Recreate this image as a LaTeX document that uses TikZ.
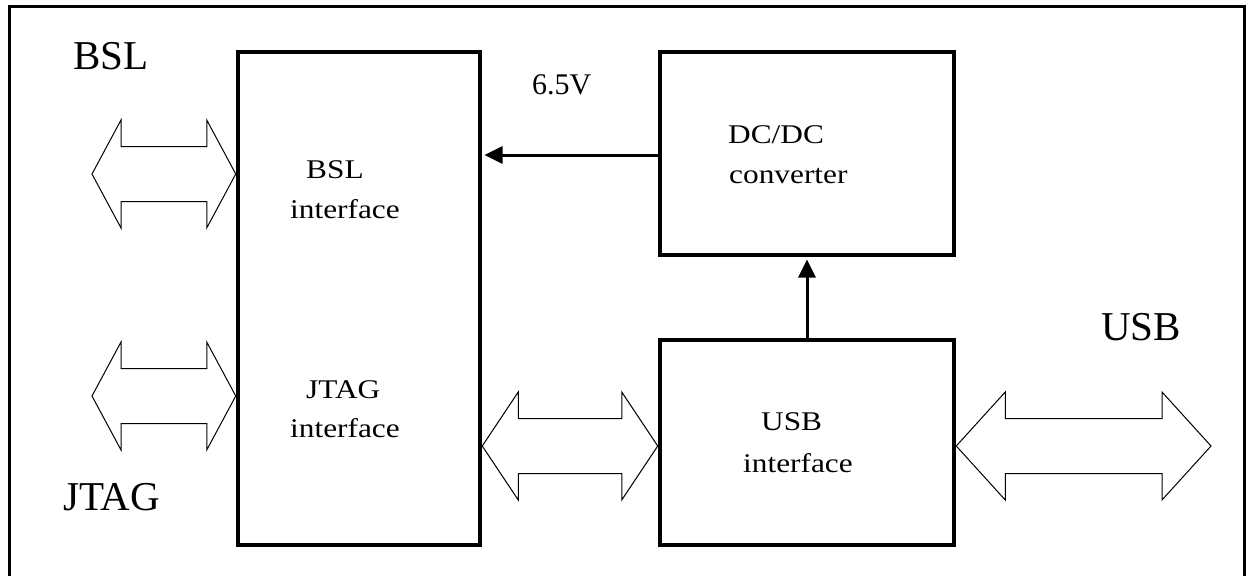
\documentclass[tikz,border=0pt]{standalone}
\usepackage{fontspec}
\setmainfont{Liberation Serif}
\newfontfamily\inner[FakeStretch=1.16]{Liberation Serif}
\usetikzlibrary{arrows.meta}
\tikzset{
  blk/.style={draw, line width=4.5pt, minimum width=#1, inner sep=0pt},
  fatarr/.style={draw, line width=1pt, line join=miter},
  biglab/.style={font=\fontsize{41}{41}\selectfont, inner sep=0pt, anchor=base west},
  inlab/.style={font=\inner\fontsize{27}{27}\selectfont, inner sep=0pt, anchor=base west},
  pwr/.style={line width=3pt, -{Triangle[length=18pt,width=17pt]}}
}
\newcommand\fatarrow[3]{\draw[fatarr] (#1) -- ([shift={(#3,-54)}]#1) -- ([shift={(#3,-27.5)}]#1) -- ([shift={(-#3,-27.5)}]#2) -- ([shift={(-#3,-54)}]#2) -- (#2) -- ([shift={(-#3,54)}]#2) -- ([shift={(-#3,27.5)}]#2) -- ([shift={(#3,27.5)}]#1) -- ([shift={(#3,54)}]#1) -- cycle;}
\begin{document}
\begin{tikzpicture}[x=1pt,y=-1pt]
\useasboundingbox (0,0) rectangle (1246,575);
% frame
\draw[line width=3pt] (9,576) -- (9,7) -- (1244,7) -- (1244,576);
% blocks
\node[blk=242pt, minimum height=493pt] (main) at (359,298.5) {};
\node[blk=294pt, minimum height=203pt] (dcdc) at (807,153.5) {};
\node[blk=294pt, minimum height=205pt] (usb) at (807,442.5) {};
% labels
\node[biglab] (lbsl) at (73,70) {BSL};
\node[biglab] (ljtag) at (63,510) {JTAG};
\node[biglab] (lusb) at (1101,340) {USB};
\node[font=\fontsize{30}{30}\selectfont, inner sep=0pt, anchor=base west] (lv) at (532,95) {6.5V};
\node[inlab] (t1) at (306,178) {BSL};
\node[inlab] (t2) at (290,218) {interface};
\node[inlab] (t3) at (306,398) {JTAG};
\node[inlab] (t4) at (290,437) {interface};
\node[inlab] (t5) at (728,143) {DC/DC};
\node[inlab] (t6) at (729,183) {converter};
\node[inlab] (t7) at (761,430) {USB};
\node[inlab] (t8) at (743,472) {interface};
% power arrows
\coordinate (pv) at (0,155);
\draw[pwr] (dcdc.west |- pv) -- ([xshift=2.25pt]main.east |- pv);
\draw[pwr] (usb.north) -- ([yshift=-2.25pt]dcdc.south);
% fat double arrows
\coordinate (bslL) at (92,174);
\coordinate (bslR) at (main.west |- bslL);
\coordinate (jtagL) at (92,396);
\coordinate (jtagR) at (main.west |- jtagL);
\coordinate (midY) at (0,446);
\coordinate (midL) at (main.east |- midY);
\coordinate (midR) at (usb.west |- midY);
\coordinate (usbL) at (usb.east |- midY);
\coordinate (usbR) at (1211,446);
\fatarrow{bslL}{bslR}{29}
\fatarrow{jtagL}{jtagR}{29}
\fatarrow{midL}{midR}{36}
\fatarrow{usbL}{usbR}{49}
\end{tikzpicture}
\end{document}
